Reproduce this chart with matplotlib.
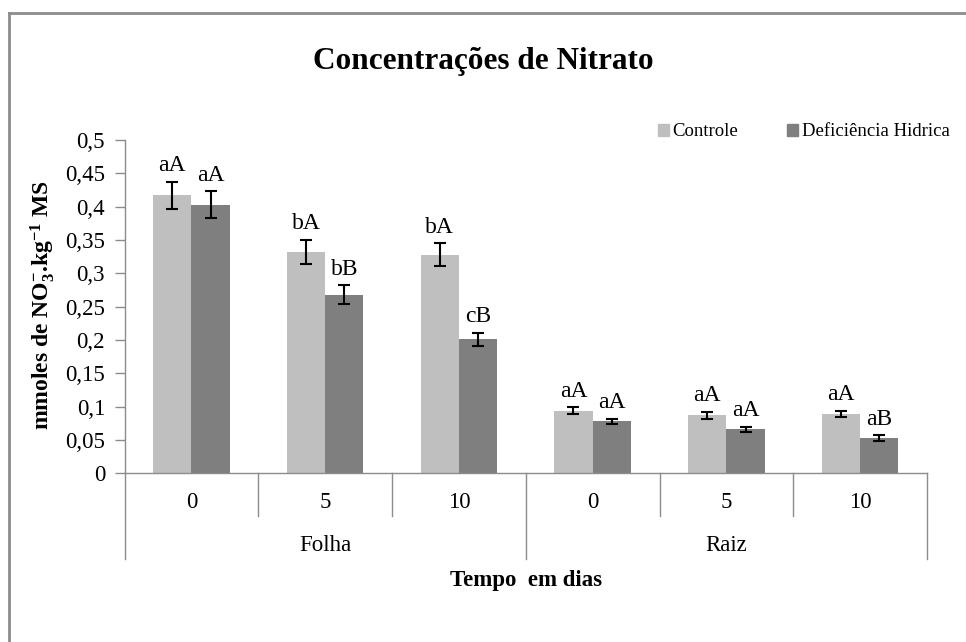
import numpy as np
import matplotlib
matplotlib.use("Agg")
from matplotlib import pyplot as plt
from matplotlib.lines import Line2D
from matplotlib.patches import Patch
import matplotlib.transforms as mtransforms

plt.rcParams['font.family'] = ['Liberation Serif', 'DejaVu Serif']
plt.rcParams['mathtext.fontset'] = 'custom'
plt.rcParams['mathtext.rm'] = 'Liberation Serif:bold'
plt.rcParams['mathtext.bf'] = 'Liberation Serif:bold'
plt.rcParams['mathtext.it'] = 'Liberation Serif:bold:italic'

# data
tempos = ['0', '5', '10', '0', '5', '10']
orgaos = ['Folha', 'Raiz']
controle = [0.417, 0.332, 0.328, 0.094, 0.087, 0.089]
controle_err = [0.020, 0.018, 0.017, 0.005, 0.005, 0.005]
deficiencia = [0.403, 0.268, 0.201, 0.078, 0.066, 0.053]
deficiencia_err = [0.020, 0.014, 0.010, 0.004, 0.004, 0.004]
letras_controle = ['aA', 'bA', 'bA', 'aA', 'aA', 'aA']
letras_deficiencia = ['aA', 'bB', 'cB', 'aA', 'aA', 'aB']
series_names = ['Controle', 'Deficiência Hidrica']

C_LIGHT = '#BFBFBF'
C_DARK = '#7F7F7F'
AXIS_GRAY = '#8C8C8C'
BAR_W = 0.286
FS = 16.5

fig = plt.figure(figsize=(9.66, 6.42), dpi=100)
ax = fig.add_axes([124.5 / 966, 1 - 473.3 / 642, (927 - 124.5) / 966, (473.3 - 140) / 642])

x = np.arange(len(tempos)) + 0.5
ax.bar(x - BAR_W / 2, controle, BAR_W, color=C_LIGHT, zorder=2)
ax.bar(x + BAR_W / 2, deficiencia, BAR_W, color=C_DARK, zorder=2)
ax.errorbar(x - BAR_W / 2, controle, yerr=controle_err, fmt='none', ecolor='black',
            elinewidth=1.5, capsize=4, capthick=1.5, zorder=3)
ax.errorbar(x + BAR_W / 2, deficiencia, yerr=deficiencia_err, fmt='none', ecolor='black',
            elinewidth=1.5, capsize=4, capthick=1.5, zorder=3)

for xi, v, e, t in zip(x - BAR_W / 2, controle, controle_err, letras_controle):
    ax.annotate(t, (xi, v + e), xytext=(0, 4), textcoords='offset points',
                ha='center', va='bottom', fontsize=17)
for xi, v, e, t in zip(x + BAR_W / 2, deficiencia, deficiencia_err, letras_deficiencia):
    ax.annotate(t, (xi, v + e), xytext=(0, 4), textcoords='offset points',
                ha='center', va='bottom', fontsize=17)

ax.set_xlim(0, len(tempos))
ax.set_ylim(0, 0.5)
ticks = np.arange(0, 0.501, 0.05).round(2)
ax.set_yticks(ticks)
ax.set_yticklabels([f'{v:g}'.replace('.', ',') for v in ticks])
ax.tick_params(axis='y', direction='out', length=7, width=1, color=AXIS_GRAY,
               labelsize=FS, pad=7)
ax.set_xticks([])
for s in ['top', 'right']:
    ax.spines[s].set_visible(False)
for s in ['left', 'bottom']:
    ax.spines[s].set_color(AXIS_GRAY)
    ax.spines[s].set_linewidth(1)

# multi-level category axis
trans = mtransforms.blended_transform_factory(ax.transData, ax.transAxes)
ax_h = 473.3 - 140
inner = -43 / ax_h
outer = -86 / ax_h
for i in range(len(tempos) + 1):
    y_end = outer if i % 3 == 0 else inner
    ax.add_line(Line2D([i, i], [0, y_end], transform=trans, color=AXIS_GRAY,
                       lw=1, clip_on=False))
for xi, t in zip(x, tempos):
    ax.text(xi, -29 / ax_h, t, transform=trans, ha='center', va='center', fontsize=FS)
for j, o in enumerate(orgaos):
    ax.text(j * 3 + 1.5, -72 / ax_h, o, transform=trans, ha='center', va='center', fontsize=FS)

ax.text(3, -107 / ax_h, 'Tempo  em dias', transform=trans, ha='center', va='center',
        fontsize=FS, fontweight='bold')
fig.text(43 / 966, 1 - 305 / 642, r'mmoles de NO$_3^{-}$.kg$^{-1}$ MS', rotation=90,
         ha='center', va='center', fontsize=17, fontweight='bold')
fig.text(483 / 966, 1 - 62 / 642, 'Concentrações de Nitrato', ha='center', va='center',
         fontsize=22.5, fontweight='bold')

handles = [Patch(color=C_LIGHT), Patch(color=C_DARK)]
fig.legend(handles, series_names, loc='center right', bbox_to_anchor=(950 / 966, 1 - 132 / 642),
           ncol=2, frameon=False, fontsize=13.5, handlelength=0.6, handleheight=0.6,
           handletextpad=0.2, columnspacing=2.6, borderaxespad=0, borderpad=0)

# chart area border (only top and left visible)
fig.add_artist(Line2D([8.5 / 966, 8.5 / 966], [0, 1 - 13 / 642], transform=fig.transFigure,
                      color=AXIS_GRAY, lw=2))
fig.add_artist(Line2D([8.5 / 966, 1], [1 - 13 / 642, 1 - 13 / 642], transform=fig.transFigure,
                      color=AXIS_GRAY, lw=2))

fig.savefig('out.png', dpi=100)
plt.close()
